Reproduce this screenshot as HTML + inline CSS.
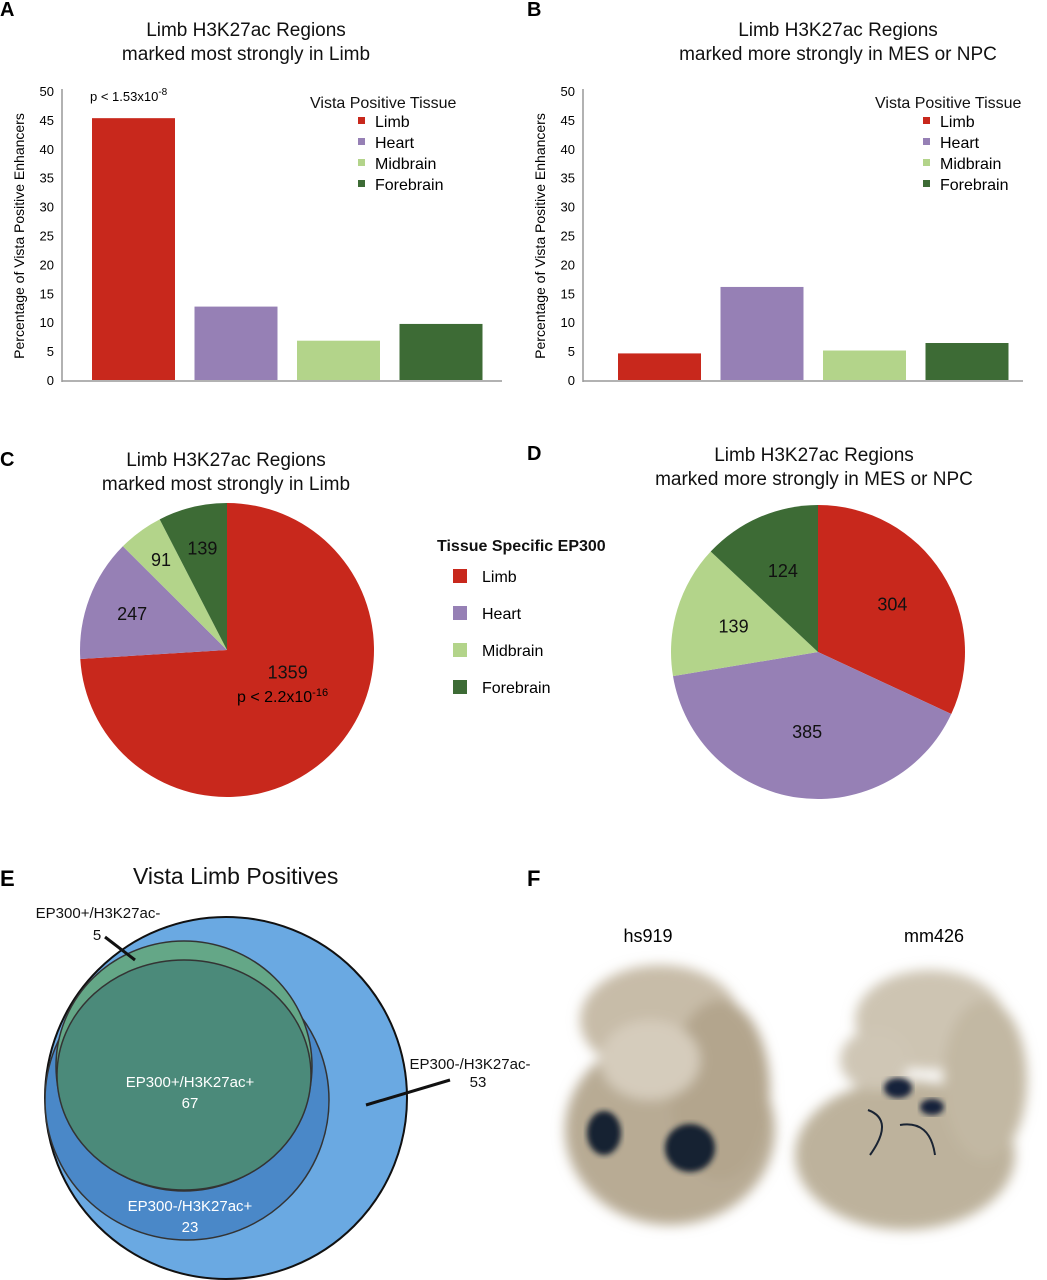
<!DOCTYPE html>
<html><head><meta charset="utf-8"><style>
body{margin:0;background:#fff;}
svg{display:block;font-family:"Liberation Sans",Arial,sans-serif;}
</style></head><body>
<svg id="fig" width="1047" height="1280" viewBox="0 0 1047 1280">
<defs>
<filter id="bl" x="-20%" y="-20%" width="140%" height="140%"><feGaussianBlur stdDeviation="6"/></filter>
<filter id="bl2"><feGaussianBlur stdDeviation="3"/></filter>
</defs>
<g id="panelA"></g>
<g id="panelB"></g>
<g id="panelC"></g>
<g id="panelD"></g>

<g font-size="16">
<text x="437" y="551" font-weight="bold" fill="#111">Tissue Specific EP300</text>
<rect x="453" y="569" width="14" height="14" fill="#c8281c"/><text x="482" y="582">Limb</text>
<rect x="453" y="606" width="14" height="14" fill="#9680b5"/><text x="482" y="619">Heart</text>
<rect x="453" y="643" width="14" height="14" fill="#b3d48a"/><text x="482" y="656">Midbrain</text>
<rect x="453" y="680" width="14" height="14" fill="#3d6b35"/><text x="482" y="693">Forebrain</text>
</g>

<g>
<text x="0" y="886" font-size="22" font-weight="bold">E</text>
<text x="133" y="884" font-size="23" fill="#111">Vista Limb Positives</text>
<circle cx="226" cy="1098" r="181" fill="#6aa9e2" stroke="#111" stroke-width="2"/>
<ellipse cx="187" cy="1100" rx="142" ry="140" fill="#4a88c8" stroke="#333" stroke-width="1.5"/>
<ellipse cx="184" cy="1066" rx="128" ry="125" fill="#64a787" stroke="#333" stroke-width="1.5"/>
<ellipse cx="184" cy="1075" rx="127" ry="115" fill="#4b8a7a" stroke="#333" stroke-width="1.5"/>
<line x1="105" y1="937" x2="135" y2="960" stroke="#111" stroke-width="3"/>
<line x1="366" y1="1105" x2="450" y2="1080" stroke="#111" stroke-width="3"/>
<g font-size="15" text-anchor="middle">
<text x="98" y="918" fill="#111">EP300+/H3K27ac-</text>
<text x="97" y="940" fill="#111">5</text>
<text x="470" y="1069" fill="#111">EP300-/H3K27ac-</text>
<text x="478" y="1087" fill="#111">53</text>
<text x="190" y="1087" fill="#fff">EP300+/H3K27ac+</text>
<text x="190" y="1108" fill="#fff">67</text>
<text x="190" y="1211" fill="#fff">EP300-/H3K27ac+</text>
<text x="190" y="1232" fill="#fff">23</text>
</g>
</g>

<g>
<text x="527" y="886" font-size="22" font-weight="bold">F</text>
<text x="648" y="942" font-size="18" text-anchor="middle">hs919</text>
<text x="934" y="942" font-size="18" text-anchor="middle">mm426</text>
<g filter="url(#bl)">
<ellipse cx="660" cy="1020" rx="80" ry="55" fill="#c7bca8"/>
<ellipse cx="670" cy="1130" rx="105" ry="95" fill="#b8ab94"/>
<ellipse cx="720" cy="1090" rx="50" ry="90" fill="#b3a58d"/>
<ellipse cx="650" cy="1060" rx="50" ry="40" fill="#d5ccbc"/>
</g>
<ellipse cx="604" cy="1133" rx="17" ry="22" fill="#142033" filter="url(#bl2)"/>
<ellipse cx="690" cy="1148" rx="25" ry="24" fill="#142033" filter="url(#bl2)"/>
<g filter="url(#bl)">
<ellipse cx="930" cy="1020" rx="75" ry="50" fill="#cdc4b2"/>
<ellipse cx="905" cy="1155" rx="110" ry="75" fill="#bdb29c"/>
<ellipse cx="985" cy="1080" rx="42" ry="80" fill="#c2b8a3"/>
<ellipse cx="875" cy="1060" rx="35" ry="30" fill="#cfc6b5"/>
</g>
<ellipse cx="898" cy="1088" rx="14" ry="10" fill="#14203a" filter="url(#bl2)"/>
<ellipse cx="932" cy="1107" rx="12" ry="8" fill="#14203a" filter="url(#bl2)"/>
<path d="M868 1110 Q895 1120 870 1155 M900 1125 Q930 1120 935 1155" stroke="#1a2433" stroke-width="2" fill="none"/>
</g>
</svg>
<script>
// Bar charts data
const barCategories = ["Limb","Heart","Midbrain","Forebrain"];
const barColors = ["#c8281c","#9680b5","#b3d48a","#3d6b35"];
const valuesA = [45.3, 12.7, 6.8, 9.7];
const valuesB = [4.6, 16.1, 5.1, 6.4];
const yTicks = [0,5,10,15,20,25,30,35,40,45,50];
// Pie data
const pieValuesC = [1359, 247, 91, 139];
const pieValuesD = [304, 385, 139, 124];
const NS = "http://www.w3.org/2000/svg";
function mk(tag, attrs, parent, txt){const e=document.createElementNS(NS,tag);for(const k in attrs)e.setAttribute(k,attrs[k]);if(txt!==undefined)e.textContent=txt;parent.appendChild(e);return e;}

function barChart(g, letter, lx, title1, title2, tcx, axX, barX0, values, pText, legX){
  mk('text',{x:lx,y:16,'font-size':20,'font-weight':'bold'},g,letter);
  mk('text',{x:tcx,y:36,'font-size':19,'text-anchor':'middle',fill:'#111'},g,title1);
  mk('text',{x:tcx,y:60,'font-size':19,'text-anchor':'middle',fill:'#111'},g,title2);
  const y0=380, y50=91;
  const yS=v=>y0-(y0-y50)*v/50;
  mk('line',{x1:axX,y1:y50-2,x2:axX,y2:y0+2,stroke:'#999','stroke-width':1.5},g);
  mk('line',{x1:axX,y1:y0+1,x2:axX+440,y2:y0+1,stroke:'#999','stroke-width':1.5},g);
  yTicks.forEach(t=>{
    const tx=mk('text',{x:axX-8,y:yS(t)+5,'font-size':13,'text-anchor':'end'},g,String(t));
    
    
  });
  const yt=mk('text',{x:0,y:0,'font-size':14,'text-anchor':'middle',transform:`translate(${axX-38},236) rotate(-90)`},g,'Percentage of Vista Positive Enhancers');
  
  
  const step=102.5, bw=83;
  values.forEach((v,i)=>{
    const r=mk('rect',{x:barX0+i*step,y:yS(v),width:bw,height:y0-yS(v),fill:barColors[i]},g);
    
    
  });
  if(pText){
    const t=mk('text',{x:barX0-2,y:101,'font-size':13},g);
    
    
    t.appendChild(document.createTextNode(pText));
    mk('tspan',{dy:-6,'font-size':10},t,'-8');
  }
  mk('text',{x:legX,y:108,'font-size':16,fill:'#111'},g,'Vista Positive Tissue');
  barCategories.forEach((c,i)=>{
    const r=mk('rect',{x:legX+softOff,y:117+i*21,width:7,height:7,fill:barColors[i]},g);
    
    
    const t=mk('text',{x:legX+softOff+17,y:127+i*21,'font-size':16},g,c);
    
    
  });
}
const softOff=48;
barChart(document.getElementById('panelA'),'A',0,'Limb H3K27ac Regions','marked most strongly in Limb',246,62,92,valuesA,'p < 1.53x10',310);
barChart(document.getElementById('panelB'),'B',527,'Limb H3K27ac Regions','marked more strongly in MES or NPC',838,583,618,valuesB,null,875);

function pie(g, cx, cy, r, vals, labelPos, angShift){
  const tot=vals.reduce((a,b)=>a+b,0);
  let a=-Math.PI/2;
  vals.forEach((v,i)=>{
    const a2=a+2*Math.PI*v/tot;
    const large=(a2-a)>Math.PI?1:0;
    const p=mk('path',{d:`M${cx},${cy} L${cx+r*Math.cos(a)},${cy+r*Math.sin(a)} A${r},${r} 0 ${large} 1 ${cx+r*Math.cos(a2)},${cy+r*Math.sin(a2)} Z`,fill:barColors[i]},g);
    
    
    const mid=(a+a2)/2+(angShift?angShift[i]*Math.PI/180:0), lr=r*labelPos[i];
    const t=mk('text',{x:cx+lr*Math.cos(mid),y:cy+lr*Math.sin(mid)+6,'font-size':18,'text-anchor':'middle',fill:'#111'},g,String(v));
    
    
    a=a2;
  });
}
const gC=document.getElementById('panelC');
mk('text',{x:0,y:466,'font-size':20,'font-weight':'bold'},gC,'C');
mk('text',{x:226,y:466,'font-size':19,'text-anchor':'middle',fill:'#111'},gC,'Limb H3K27ac Regions');
mk('text',{x:226,y:490,'font-size':19,'text-anchor':'middle',fill:'#111'},gC,'marked most strongly in Limb');
pie(gC,227,650,147,pieValuesC,[0.44,0.69,0.76,0.71],[-23,0,0,0]);
const pc=mk('text',{x:237,y:702,'font-size':16},gC,'p < 2.2x10');
mk('tspan',{dy:-6,'font-size':11},pc,'-16');
const gD=document.getElementById('panelD');
mk('text',{x:527,y:460,'font-size':20,'font-weight':'bold'},gD,'D');
mk('text',{x:814,y:461,'font-size':19,'text-anchor':'middle',fill:'#111'},gD,'Limb H3K27ac Regions');
mk('text',{x:814,y:485,'font-size':19,'text-anchor':'middle',fill:'#111'},gD,'marked more strongly in MES or NPC');
pie(gD,818,652,147,pieValuesD,[0.6,0.55,0.6,0.6]);
</script>
</body></html>
